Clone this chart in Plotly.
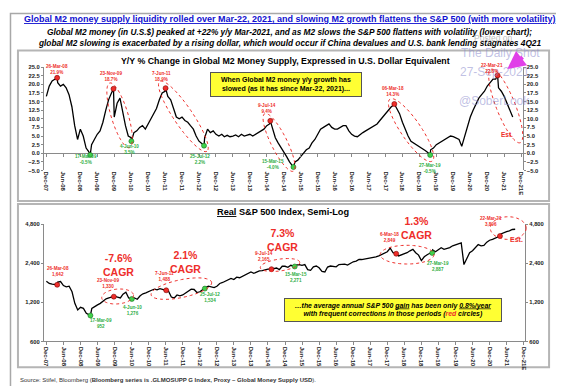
import numpy as np
import pandas as pd
import plotly.graph_objects as go

W, H = 564, 386
FONT = "Liberation Sans, Arial, sans-serif"
RED = "#ee2e2a"
GREEN = "#2fae45"

# ---------------- data ----------------
months = pd.date_range("2007-12-01", "2021-09-01", freq="MS")

m2_yoy = [
    16.5,
    19.5, 21.0, 21.5, 20.5, 19.5, 20.0, 19.0, 17.0, 13.5, 8.0, 4.0, 7.0,
    5.0, 1.5, 0.5, 2.5, 4.0, 5.5, 6.5, 9.0, 12.5, 15.5, 17.5, 10.5,
    14.5, 16.0, 12.0, 8.0, 5.0, 4.5, 6.0, 6.5, 7.5, 8.0, 7.0, 8.5,
    10.0, 11.5, 13.0, 15.5, 17.5, 18.0, 16.5, 15.5, 13.0, 10.5, 10.0, 10.5,
    9.5, 9.0, 8.0, 7.0, 5.0, 3.5, 2.8, 4.5, 7.0, 6.0, 6.5, 5.5,
    5.0, 5.5, 4.8, 5.2, 4.8, 5.0, 5.3, 4.8, 5.5, 5.0, 5.3, 5.5,
    5.0, 5.5, 6.0, 6.5, 7.0, 8.0, 8.5, 7.0, 4.5, 3.0, 1.5, 0.2,
    -1.0, -2.5, -3.5, -2.5, -2.0, -1.0, 0.0, 1.0, 1.5, 3.0, 4.0, 5.5,
    7.0, 7.5, 8.0, 8.5, 7.5, 7.0, 7.0, 7.5, 8.0, 8.0, 6.5, 5.5,
    5.0, 4.8, 5.5, 6.0, 6.5, 7.0, 7.5, 8.0, 8.5, 9.5, 10.5, 11.5,
    12.5, 13.5, 14.0, 13.0, 11.5, 9.0, 7.0, 5.0, 3.5, 3.0, 2.5, 2.0,
    1.5, 0.8, 0.2, 1.0, 1.5, 2.5, 3.0, 3.5, 4.0, 4.5, 5.0, 4.8,
    4.5, 4.0, 2.0, 5.0, 8.0, 10.5, 12.5, 14.5, 16.0, 17.0, 18.0, 19.5,
    20.5, 21.5, 21.5, 19.0, 18.0, 16.5, 14.5, 12.5, 10.5,
]

spx_real = [
    1750,
    1680, 1660, 1640, 1720, 1740, 1620, 1580, 1600, 1450, 1180, 1050, 1100,
    1080, 990, 960, 1080, 1120, 1150, 1180, 1240, 1280, 1300, 1320, 1340,
    1320, 1300, 1390, 1440, 1300, 1290, 1300, 1270, 1350, 1400, 1420, 1460,
    1490, 1520, 1500, 1530, 1510, 1480, 1470, 1320, 1300, 1370, 1350, 1370,
    1420, 1460, 1520, 1510, 1430, 1450, 1510, 1560, 1600, 1590, 1560, 1600,
    1680, 1710, 1750, 1780, 1840, 1800, 1880, 1860, 1910, 1960, 2020, 2060,
    2010, 2060, 2100, 2110, 2150, 2170, 2170, 2190, 2210, 2150, 2280, 2280,
    2240, 2320, 2290, 2330, 2350, 2320, 2350, 2150, 2120, 2260, 2290, 2220,
    2080, 2060, 2250, 2290, 2290, 2260, 2350, 2370, 2370, 2330, 2400, 2470,
    2500, 2570, 2570, 2590, 2620, 2650, 2680, 2690, 2740, 2800, 2890, 2950,
    3150, 2900, 2850, 2740, 2780, 2820, 2900, 3000, 3080, 2900, 2780, 2520,
    2700, 2800, 2870, 3050, 2950, 3080, 3170, 3080, 3130, 3180, 3280, 3350,
    3400, 3450, 2350, 2650, 2900, 3000, 3150, 3350, 3280, 3300, 3500, 3620,
    3680, 3760, 3850, 4050, 4150, 4220, 4280, 4380, 4400,
]

peak_dates = ["2008-03-26", "2009-11-23", "2011-06-07", "2014-07-09", "2018-03-06", "2021-03-22"]
m2_peak_vals = [21.9, 18.7, 18.9, 9.4, 14.3, 22.6]
spx_peak_vals = [1642, 1330, 1488, 2165, 2849, 3896]

trough_dates = ["2009-03-17", "2010-06-04", "2012-07-25", "2015-03-15", "2019-03-27"]
m2_trough_vals = [-0.5, 3.5, 2.2, -4.0, -0.5]
spx_trough_vals = [952, 1276, 1534, 2271, 2887]

tick_dates = pd.date_range("2007-12-01", "2021-12-01", freq="6MS")
tick_labels = ["Dec-07", "Jun-08", "Dec-08", "Jun-09", "Dec-09", "Jun-10", "Dec-10", "Jun-11",
               "Dec-11", "Jun-12", "Dec-12", "Jun-13", "Dec-13", "Jun-14", "Dec-14", "Jun-15",
               "Dec-15", "Jun-16", "Dec-16", "Jun-17", "Dec-17", "Jun-18", "Dec-18", "Jun-19",
               "Dec-19", "Jun-20", "Dec-20", "Jun-21", "Dec-21E"]

m2_ticks = [-5, -2.5, 0, 2.5, 5, 7.5, 10, 12.5, 15, 17.5, 20, 22.5, 25]
spx_ticks = [600, 1200, 2400, 4800]
spx_tick_labels = ["600", "1,200", "2,400", "4,800"]

# combine monthly series with the dated extremes
def combined(vals, pv, tv):
    s = pd.Series(vals, index=months)
    extra = pd.Series(pv + tv, index=pd.to_datetime(peak_dates + trough_dates))
    return pd.concat([s, extra]).sort_index()

m2_s = combined(m2_yoy, m2_peak_vals, m2_trough_vals)
spx_s = combined(spx_real, spx_peak_vals, spx_trough_vals)

# ---------------- figure ----------------
fig = go.Figure()
line = dict(color="black", width=1.3)
fig.add_trace(go.Scatter(x=m2_s.index, y=m2_s.values, mode="lines", line=line, xaxis="x", yaxis="y"))
fig.add_trace(go.Scatter(x=m2_s.index, y=m2_s.values, mode="lines", line=dict(color="rgba(0,0,0,0)"),
                         xaxis="x", yaxis="y3", hoverinfo="skip"))
fig.add_trace(go.Scatter(x=m2_s.index, y=m2_s.values, mode="lines", line=dict(color="rgba(0,0,0,0)"),
                         xaxis="x3", yaxis="y", hoverinfo="skip"))
fig.add_trace(go.Scatter(x=spx_s.index, y=spx_s.values, mode="lines", line=line, xaxis="x2", yaxis="y2"))
fig.add_trace(go.Scatter(x=spx_s.index, y=spx_s.values, mode="lines", line=dict(color="rgba(0,0,0,0)"),
                         xaxis="x2", yaxis="y4", hoverinfo="skip"))

mk_red = dict(color=RED, size=5, line=dict(color="#7a0000", width=0.6))
mk_grn = dict(color="#3fd24a", size=5, line=dict(color="#1d6b22", width=0.6))
fig.add_trace(go.Scatter(x=pd.to_datetime(peak_dates), y=m2_peak_vals, mode="markers", marker=mk_red, xaxis="x", yaxis="y"))
fig.add_trace(go.Scatter(x=pd.to_datetime(trough_dates), y=m2_trough_vals, mode="markers", marker=mk_grn, xaxis="x", yaxis="y"))
fig.add_trace(go.Scatter(x=pd.to_datetime(peak_dates), y=spx_peak_vals, mode="markers", marker=mk_red, xaxis="x2", yaxis="y2"))
fig.add_trace(go.Scatter(x=pd.to_datetime(trough_dates), y=spx_trough_vals, mode="markers", marker=mk_grn, xaxis="x2", yaxis="y2"))

def xr(x0px, x1px, d0px, d1px):
    # date range so that Dec-07 sits at d0px and Dec-21 at d1px given domain [x0px, x1px]
    t0 = pd.Timestamp("2007-12-01"); t1 = pd.Timestamp("2021-12-01")
    per = (t1 - t0) / (d1px - d0px)
    return [t0 - per * (d0px - x0px), t1 + per * (x1px - d1px)]

top_dom = [36 / W, 516.5 / W]
bot_dom = [36 / W, 519 / W]
top_range = xr(36, 516.5, 38.5, 515)
bot_range = xr(36, 519, 38.5, 517.5)

axcol = "#8a8a8a"
tickfont = dict(family=FONT, size=5.8, color="#222", weight="bold")
xtickfont = dict(family=FONT, size=6, color="#222", weight="bold")

fig.update_layout(
    width=W, height=H, margin=dict(l=0, r=0, t=0, b=0),
    paper_bgcolor="white", plot_bgcolor="rgba(0,0,0,0)", showlegend=False,
    xaxis=dict(domain=top_dom, anchor="y", range=top_range, tickvals=tick_dates, ticktext=tick_labels,
               tickangle=90, tickfont=xtickfont, showline=False, ticks="", showgrid=False, zeroline=False),
    xaxis3=dict(overlaying="x", anchor="free", position=1 - 144.5 / H, range=top_range, tickvals=tick_dates,
                showticklabels=False, ticks="outside", ticklen=3, tickcolor=axcol, showline=False,
                showgrid=False, zeroline=False),
    yaxis=dict(domain=[1 - 162 / H, 1 - 57 / H], anchor="x", range=[-5, 25], tickvals=m2_ticks,
               tickformat=".1f", ticksuffix="%", tickfont=tickfont, showline=True, linecolor=axcol,
               ticks="outside", ticklen=2, tickcolor=axcol, showgrid=False, zeroline=True,
               zerolinecolor=axcol, zerolinewidth=1),
    yaxis3=dict(overlaying="y", side="right", anchor="x", range=[-5, 25], tickvals=m2_ticks,
                tickformat=".1f", ticksuffix="%", tickfont=tickfont, showline=True, linecolor=axcol,
                ticks="outside", ticklen=2, tickcolor=axcol, showgrid=False, zeroline=False),
    xaxis2=dict(domain=bot_dom, anchor="y2", range=bot_range, tickvals=tick_dates, ticktext=tick_labels,
                tickangle=90, tickfont=xtickfont, showline=True, linecolor=axcol, ticks="outside",
                ticklen=3, tickcolor=axcol, showgrid=False, zeroline=False),
    yaxis2=dict(domain=[1 - 335.7 / H, 1 - 216.7 / H], anchor="x2", type="log",
                range=[np.log10(600), np.log10(4800)], tickvals=spx_ticks, ticktext=spx_tick_labels,
                tickfont=tickfont, showline=True, linecolor=axcol, ticks="outside", ticklen=2,
                tickcolor=axcol, showgrid=False, zeroline=False),
    yaxis4=dict(overlaying="y2", side="right", anchor="x2", type="log",
                range=[np.log10(600), np.log10(4800)], tickvals=spx_ticks, ticktext=spx_tick_labels,
                tickfont=tickfont, showline=True, linecolor=axcol, ticks="outside", ticklen=2,
                tickcolor=axcol, showgrid=False, zeroline=False),
)

# ---------------- decorations ----------------
shapes = []
def rect(x0, y0, x1, y1, color, width):
    shapes.append(dict(type="rect", xref="paper", yref="paper", x0=x0 / W, x1=x1 / W,
                       y0=1 - y1 / H, y1=1 - y0 / H, line=dict(color=color, width=width), layer="below"))

rect(2.5, 2.5, 561.5, 383.5, "#a8a8a8", 1.5)
rect(10, 40, 543, 193, "#b5b5b5", 2)
rect(10, 196, 543, 362, "#b5b5b5", 2)

def ellipse(cx, cy, rx, ry, ang):
    t = np.linspace(0, 2 * np.pi, 72)
    a = np.deg2rad(ang)
    xs = cx + rx * np.cos(t) * np.cos(a) - ry * np.sin(t) * np.sin(a)
    ys = cy + rx * np.cos(t) * np.sin(a) + ry * np.sin(t) * np.cos(a)
    path = "M " + " L ".join(f"{x / W:.5f},{1 - y / H:.5f}" for x, y in zip(xs, ys)) + " Z"
    shapes.append(dict(type="path", xref="paper", yref="paper", path=path,
                       line=dict(color=RED, width=1, dash="dot")))

def ellipse_ends(x1, y1, x2, y2, w):
    L = np.hypot(x2 - x1, y2 - y1)
    ellipse((x1 + x2) / 2, (y1 + y2) / 2, L / 2 + 3, w, np.degrees(np.arctan2(y2 - y1, x2 - x1)))

ellipse_ends(103, 76, 121, 136, 8.5)
ellipse_ends(154, 74, 198, 140, 9.5)
ellipse_ends(259, 107, 285, 160, 8)
ellipse_ends(385, 92, 424, 150, 10)
ellipse_ends(486, 62, 513, 131, 9.5)

ellipse(110, 290, 16, 7.5, -5)
ellipse(174, 282, 31, 9, -12)
ellipse(273, 258, 20, 6, -8)
ellipse(400.5, 247.5, 27, 9.5, 0)
ellipse(502, 220.5, 18, 11.5, 0)

ann = []
def txt(x, y, text, size, color="black", xanchor="center", **kw):
    d = dict(x=x / W, y=1 - y / H, xref="paper", yref="paper", text=text, showarrow=False,
             font=dict(family=FONT, size=size, color=color), xanchor=xanchor, yanchor="middle")
    d.update(kw)
    ann.append(d)

# titles
txt(282, 8, "<b><u>Global M2 money supply liquidity rolled over Mar-22, 2021, and slowing M2 growth flattens the S&P 500 (with more volatility)</u></b>",
    9, "#1010d0")
txt(282, 21, "<b><i>Global M2 money (in U.S.$) peaked at +22% y/y Mar-2021, and as M2 slows the S&P 500 flattens with volatility (lower chart);</i></b>", 8.3)
txt(282, 32, "<b><i>global M2 slowing is exacerbated by a rising dollar, which would occur if China devalues and U.S. bank lending stagnates 4Q21</i></b>", 8.3)
txt(278, 51, "<b>Y/Y % Change in Global M2 Money Supply, Expressed in U.S. Dollar Equivalent</b>", 8.8)
txt(276, 204, "<b><u>Real</u> S&P 500 Index, Semi-Log</b>", 9.2)

# watermark
wm = "rgba(140,140,205,0.55)"
txt(466, 27, "Posted on", 8.5, "rgba(160,160,160,0.7)", xanchor="left")
txt(453, 43, "The Daily Shot", 12, wm, xanchor="left")
txt(452, 62, "27-Sep-2021", 12, wm, xanchor="left")
txt(451, 91, "@SoberLook", 12, wm, xanchor="left")

# top labels
lab = 4.6
for x, y, t in [(49, 59, "26-Mar-08<br>21.9%"), (103, 66.5, "23-Nov-09<br>18.7%"),
                (154, 66.5, "7-Jun-11<br>18.9%"), (260, 99.5, "9-Jul-14<br>9.4%"),
                (386, 81.5, "06-Mar-18<br>14.3%"), (486, 58, "22-Mar-21<br>22.6%")]:
    txt(x, y, f"<b>{t}</b>", lab, RED)
for x, y, t in [(78, 150.5, "17-Mar-09<br>-0.5%"), (122, 140.5, "4-Jun-10<br>3.5%"),
                (193, 150.5, "25-Jul-12<br>2.2%"), (266, 155.5, "15-Mar-15<br>-4.0%"),
                (423, 159.5, "27-Mar-19<br>-0.5%")]:
    txt(x, y, f"<b>{t}</b>", lab, GREEN)
txt(501, 125, "<b>Est.</b>", 6.5, RED)

# bottom labels
for x, y, t in [(50, 265, "26-Mar-08<br>1,642"), (100, 276.5, "23-Nov-09<br>1,330"),
                (157, 270, "7-Jun-11<br>1,488"), (257, 249, "9-Jul-14<br>2,165"),
                (383, 230.5, "6-Mar-18<br>2,849"), (485, 213.5, "22-Mar-21<br>3,896")]:
    txt(x, y, f"<b>{t}</b>", lab, RED)
for x, y, t in [(93, 317, "17-Mar-09<br>952"), (125, 304, "4-Jun-10<br>1,276"),
                (203, 291, "25-Jul-12<br>1,534"), (289, 270.5, "15-Mar-15<br>2,271"),
                (432, 259.5, "27-Mar-19<br>2,887")]:
    txt(x, y, f"<b>{t}</b>", lab, GREEN)
txt(510, 232, "<b>Est.</b>", 7, RED)

for x, y, t in [(111, 258, "-7.6%<br>CAGR"), (178, 255, "2.1%<br>CAGR"),
                (275, 233, "7.3%<br>CAGR"), (410, 220, "1.3%<br>CAGR")]:
    txt(x, y, f"<b>{t}</b>", 10.5, RED)

# yellow boxes
txt(279, 75, "<b>When Global M2 money y/y growth has<br>slowed (as it has since Mar-22, 2021)...</b>", 7,
    bgcolor="#ffff33", bordercolor="#555", borderwidth=1, borderpad=2, width=146, height=19)
txt(386, 303.5, "<b><i>…the average annual S&P 500 <u>gain</u> has been only <u>0.8%/year</u><br>"
    "with frequent corrections in those periods (<span style='color:#ee2e2a'>red</span> circles)</i></b>", 6.9,
    bgcolor="#ffff33", bordercolor="#555", borderwidth=1, borderpad=2, width=212, height=18)

# source
txt(10, 375, "Source: Stifel, Bloomberg (<b>Bloomberg series is .GLMOSUPP G Index, Proxy – Global Money Supply USD</b>).",
    6, "#333", xanchor="left")

# magenta arrow
ann.append(dict(x=501 / W, y=1 - 59 / H, xref="paper", yref="paper", ax=17, ay=-13, text="",
                showarrow=True, arrowhead=2, arrowsize=0.9, arrowwidth=4, arrowcolor="#e040e8"))

fig.update_layout(shapes=shapes, annotations=ann)
fig.write_html("out.html")
